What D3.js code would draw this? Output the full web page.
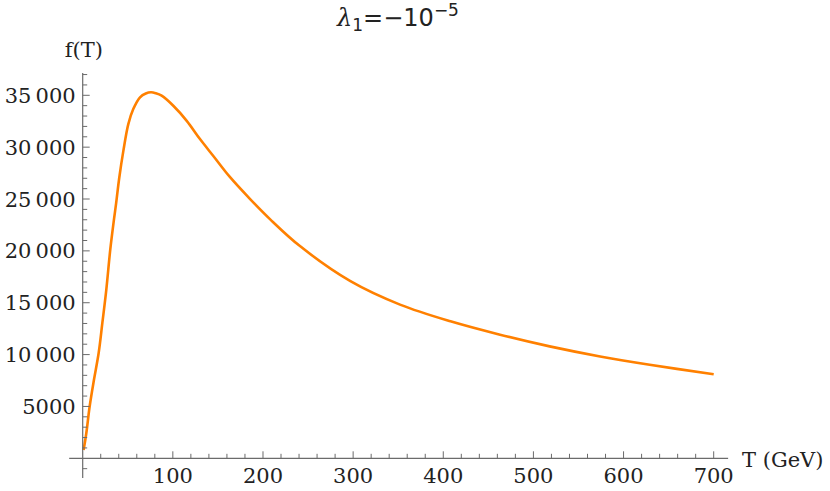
<!DOCTYPE html>
<html>
<head>
<meta charset="utf-8">
<script src="https://cdn.jsdelivr.net/npm/d3@7"></script>
<style>
  body { margin: 0; background: #fff; }
  .tick-label { font-family: "DejaVu Serif", serif; font-size: 21px; fill: #222; }
  .axis-title { font-family: "DejaVu Serif", serif; font-size: 21px; fill: #222; }
  .plot-title { font-family: "DejaVu Sans", sans-serif; font-size: 24px; fill: #222; }
</style>
</head>
<body>
<div id="chart"></div>
<script>
// values
var tValues = [1, 4, 7.7, 12.5, 17.7, 21.8, 26.2, 30.6, 34.7, 37.1, 40.6, 45.1, 50.6, 56.1,
  63.6, 70, 75.8, 81, 87.6, 100.5, 115.4, 130.1, 144.9, 163, 186, 208, 241, 297, 352, 408,
  463, 518, 574, 629, 700];
var fValues = [800, 2420, 4990, 7570, 10150, 13050, 16270, 20140, 23040, 24600, 27070, 29640,
  32220, 33670, 34810, 35180, 35290, 35200, 34960, 33990, 32540, 30780, 29150, 27150, 24970,
  23040, 20460, 17080, 14820, 13210, 11920, 10790, 9820, 9020, 8100];

var xMajor = [100, 200, 300, 400, 500, 600, 700];
var yMajor = [5000, 10000, 15000, 20000, 25000, 30000, 35000];
var xLabels = ["100", "200", "300", "400", "500", "600", "700"];
var yLabels = ["5000", "10\u2009000", "15\u2009000", "20\u2009000", "25\u2009000", "30\u2009000", "35\u2009000"];

var width = 830, height = 491;
var axisColor = "#6b6b6b";

var svg = d3.select("#chart").append("svg")
  .attr("width", width)
  .attr("height", height);

var x = d3.scaleLinear().domain([0, 700]).range([82.7, 713.7]);
var y = d3.scaleLinear().domain([0, 35000]).range([458.3, 95.3]);

var xExtent = [-15, 716];
var yExtent = [-1900, 37150];

var data = tValues.map(function (t, i) { return { t: t, f: fValues[i] }; });

// curve
var line = d3.line()
  .x(function (d) { return x(d.t); })
  .y(function (d) { return y(d.f); })
  .curve(d3.curveCatmullRom.alpha(0.5));

svg.append("path")
  .datum(data)
  .attr("d", line)
  .attr("fill", "none")
  .attr("stroke", "#ff8000")
  .attr("stroke-width", 2.6)
  .attr("stroke-linejoin", "round");

// axes lines
svg.append("line")
  .attr("x1", x(xExtent[0])).attr("x2", x(xExtent[1]))
  .attr("y1", y(0)).attr("y2", y(0))
  .attr("stroke", axisColor).attr("stroke-width", 1.2);

svg.append("line")
  .attr("x1", x(0)).attr("x2", x(0))
  .attr("y1", y(yExtent[0])).attr("y2", y(yExtent[1]))
  .attr("stroke", axisColor).attr("stroke-width", 1.2);

// x ticks (pointing up)
var xMinor = d3.range(20, 716, 20).filter(function (v) { return v % 100 !== 0; });
svg.selectAll(".xminor").data(xMinor).enter().append("line")
  .attr("x1", function (d) { return x(d); }).attr("x2", function (d) { return x(d); })
  .attr("y1", y(0)).attr("y2", y(0) - 4.5)
  .attr("stroke", axisColor).attr("stroke-width", 1);
svg.selectAll(".xmajor").data(xMajor).enter().append("line")
  .attr("x1", function (d) { return x(d); }).attr("x2", function (d) { return x(d); })
  .attr("y1", y(0)).attr("y2", y(0) - 7)
  .attr("stroke", axisColor).attr("stroke-width", 1);
svg.selectAll(".xlab").data(xMajor).enter().append("text")
  .attr("class", "tick-label")
  .attr("x", function (d) { return x(d); })
  .attr("y", y(0) + 25)
  .attr("text-anchor", "middle")
  .text(function (d, i) { return xLabels[i]; });

// y ticks (pointing right)
var yMinor = d3.range(-1000, 37200, 1000).filter(function (v) { return v % 5000 !== 0; });
svg.selectAll(".yminor").data(yMinor).enter().append("line")
  .attr("x1", x(0)).attr("x2", x(0) + 4.5)
  .attr("y1", function (d) { return y(d); }).attr("y2", function (d) { return y(d); })
  .attr("stroke", axisColor).attr("stroke-width", 1);
svg.selectAll(".ymajor").data(yMajor).enter().append("line")
  .attr("x1", x(0)).attr("x2", x(0) + 7)
  .attr("y1", function (d) { return y(d); }).attr("y2", function (d) { return y(d); })
  .attr("stroke", axisColor).attr("stroke-width", 1);
svg.selectAll(".ylab").data(yMajor).enter().append("text")
  .attr("class", "tick-label")
  .attr("x", x(0) - 7)
  .attr("y", function (d) { return y(d) + 7.5; })
  .attr("text-anchor", "end")
  .text(function (d, i) { return yLabels[i]; });

// axis titles
svg.append("text").attr("class", "axis-title")
  .attr("x", 103).attr("y", 57)
  .attr("text-anchor", "end")
  .text("f(T)");
svg.append("text").attr("class", "axis-title")
  .attr("x", 742).attr("y", 467)
  .text("T (GeV)");

// plot title
var title = svg.append("text").attr("class", "plot-title")
  .attr("x", 398).attr("y", 26)
  .attr("text-anchor", "middle");
title.append("tspan").attr("font-family", "DejaVu Serif").attr("font-style", "italic").text("\u03bb");
title.append("tspan").attr("font-size", "17px").attr("dy", 5).text("1");
title.append("tspan").attr("dy", -5).text("=\u221210");
title.append("tspan").attr("font-size", "17px").attr("dy", -10).text("\u22125");
</script>
</body>
</html>
